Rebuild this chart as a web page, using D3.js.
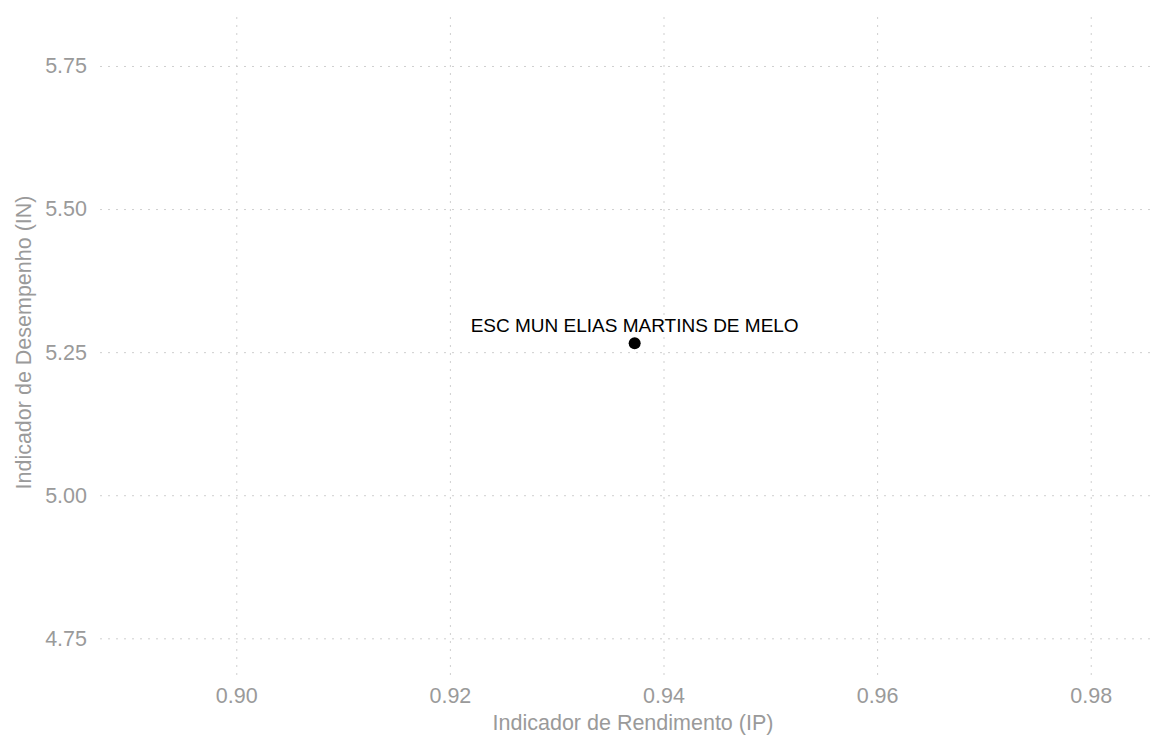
<!DOCTYPE html>
<html>
<head>
<meta charset="utf-8">
<script src="https://cdn.jsdelivr.net/npm/d3@7"></script>
<style>
  html, body { margin: 0; padding: 0; background: #fff; }
  svg { display: block; font-family: "Liberation Sans", Arial, Helvetica, sans-serif; }
</style>
</head>
<body>
<svg id="chart" width="1153" height="735"></svg>
<script>
// Data
const schools = ["ESC MUN ELIAS MARTINS DE MELO"];
const ipValues = [0.9373];
const inValues = [5.2656];
const xTicks = [0.90, 0.92, 0.94, 0.96, 0.98];
const yTicks = [4.75, 5.00, 5.25, 5.50, 5.75];
const xTitle = "Indicador de Rendimento (IP)";
const yTitle = "Indicador de Desempenho (IN)";

const W = 1153, H = 735;
const plot = { left: 100, right: 1150, top: 14, bottom: 675 };

const svg = d3.select("#chart");

const x = d3.scaleLinear().domain([0.88724, 0.98555]).range([plot.left, plot.right]);
const y = d3.scaleLinear().domain([4.6859, 5.8408]).range([plot.bottom, plot.top]);

const gridColor = "#cfcfcf";
const dash = "2,6";
const labelColor = "#9a9a9a";

// X axis (gridlines + labels)
const xAxis = d3.axisBottom(x).tickValues(xTicks).tickFormat(d3.format(".2f"))
  .tickSize(-(plot.bottom - plot.top)).tickPadding(13);
const gx = svg.append("g").attr("transform", `translate(0,${plot.bottom})`).call(xAxis);
gx.select(".domain").remove();
gx.selectAll(".tick line").attr("stroke", gridColor).attr("stroke-dasharray", dash).attr("stroke-width", 1);
gx.selectAll(".tick text").attr("fill", labelColor).attr("font-size", "21.5px").attr("font-family", "Liberation Sans, Arial, sans-serif");

// Y axis
const yAxis = d3.axisLeft(y).tickValues(yTicks).tickFormat(d3.format(".2f"))
  .tickSize(-(plot.right - plot.left)).tickPadding(13);
const gy = svg.append("g").attr("transform", `translate(${plot.left},0)`).call(yAxis);
gy.select(".domain").remove();
gy.selectAll(".tick line").attr("stroke", gridColor).attr("stroke-dasharray", dash).attr("stroke-width", 1);
gy.selectAll(".tick text").attr("fill", labelColor).attr("font-size", "21.5px").attr("font-family", "Liberation Sans, Arial, sans-serif");

// Axis titles
svg.append("text")
  .attr("x", (plot.left + plot.right) / 2 + 8)
  .attr("y", 730)
  .attr("text-anchor", "middle")
  .attr("fill", labelColor)
  .attr("font-size", "21.5px")
  .text(xTitle);

svg.append("text")
  .attr("transform", `translate(31,${(plot.top + plot.bottom) / 2 - 2}) rotate(-90)`)
  .attr("text-anchor", "middle")
  .attr("fill", labelColor)
  .attr("font-size", "21.5px")
  .text(yTitle);

// Points
const pts = schools.map((s, i) => ({ name: s, ip: ipValues[i], in: inValues[i] }));
svg.append("g").selectAll("circle").data(pts).join("circle")
  .attr("cx", d => x(d.ip))
  .attr("cy", d => y(d.in))
  .attr("r", 6)
  .attr("fill", "#000");

svg.append("g").selectAll("text").data(pts).join("text")
  .attr("x", d => x(d.ip))
  .attr("y", d => y(d.in) - 11)
  .attr("text-anchor", "middle")
  .attr("fill", "#000")
  .attr("font-size", "19px")
  .text(d => d.name);
</script>
</body>
</html>
